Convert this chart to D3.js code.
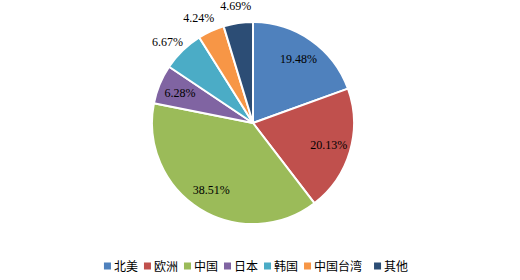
<!DOCTYPE html>
<head>
  <meta charset="utf-8">
  <script src="https://cdn.jsdelivr.net/npm/d3@7"></script>
  <style>
    body { margin: 0; background: #fff; }
  </style>
</head>
<body>
<script>

var regions = ["北美", "欧洲", "中国", "日本", "韩国", "中国台湾", "其他"]
var shares = [19.48, 20.13, 38.51, 6.28, 6.67, 4.24, 4.69]
var colors = ["#4F81BD", "#C0504D", "#9BBB59", "#8064A2", "#4BACC6", "#F79646", "#2C4D75"]
// labels Excel pushed outside the pie
var outsideLabels = ["韩国", "中国台湾", "其他"]

var width = 520
var height = 280
var cx = 253, cy = 123, radius = 101

var svg = d3.select("body")
            .append("svg")
            .attr("width", width)
            .attr("height", height)

var data = regions.map(function(r, i) {
  return {name: r, value: shares[i]}
})

var color = d3.scaleOrdinal()
              .domain(regions)
              .range(colors)

var pie = d3.pie()
            .sort(null)
            .value(function(d) { return d.value })

var arcs = pie(data)

var arc = d3.arc()
            .innerRadius(0)
            .outerRadius(radius)

var g = svg.append("g")
           .attr("transform", "translate(" + cx + "," + cy + ")")

g.selectAll("path")
 .data(arcs)
 .enter()
 .append("path")
 .attr("d", arc)
 .attr("fill", function(d) { return color(d.data.name) })
 .attr("stroke", "#fff")
 .attr("stroke-width", 2)
 .attr("stroke-linejoin", "round")

// inside labels
var labelArc = d3.arc()
                 .innerRadius(79)
                 .outerRadius(79)

var inside = arcs.filter(function(d) { return outsideLabels.indexOf(d.data.name) < 0 })
var outside = arcs.filter(function(d) { return outsideLabels.indexOf(d.data.name) >= 0 })

g.selectAll("text.in")
 .data(inside)
 .enter()
 .append("text")
 .attr("class", "in")
 .attr("transform", function(d) { return "translate(" + labelArc.centroid(d) + ")" })
 .attr("text-anchor", "middle")
 .attr("dy", "0.35em")
 .style("font-family", "'Liberation Serif', 'Times New Roman', serif")
 .style("font-size", "12px")
 .attr("fill", "#000")
 .text(function(d) { return d.data.value.toFixed(2) + "%" })

// outside labels: spread them apart, working back from the last slice
var prev = Infinity
var outPos = []
for (var i = outside.length - 1; i >= 0; i--) {
  var d = outside[i]
  var mid = (d.startAngle + d.endAngle) / 2
  var a = Math.min(mid, prev - 19 * Math.PI / 180)
  prev = a
  outPos[i] = a
}

g.selectAll("text.out")
 .data(outside)
 .enter()
 .append("text")
 .attr("class", "out")
 .attr("x", function(d, i) { return Math.sin(outPos[i]) * (radius + 17) })
 .attr("y", function(d, i) { return -Math.cos(outPos[i]) * (radius + 17) })
 .attr("text-anchor", "middle")
 .attr("dy", "0.35em")
 .style("font-family", "'Liberation Serif', 'Times New Roman', serif")
 .style("font-size", "12px")
 .attr("fill", "#000")
 .text(function(d) { return d.data.value.toFixed(2) + "%" })

// legend
var legend = svg.append("g")
var ly = 266
var items = legend.selectAll("g")
  .data(regions)
  .enter()
  .append("g")

items.append("rect")
  .attr("width", 7)
  .attr("height", 7)
  .attr("y", ly - 3.5)
  .attr("fill", function(d) { return color(d) })

items.append("text")
  .attr("x", 10)
  .attr("y", ly)
  .attr("dy", "0.38em")
  .style("font-family", "'Noto Sans CJK SC', sans-serif")
  .style("font-size", "12px")
  .attr("fill", "#000")
  .text(function(d) { return d })

var offsets = []
var x = 0
items.each(function(d, i) {
  offsets.push(x)
  var w = this.querySelector("text").getComputedTextLength()
  x += 10 + w + (w > 30 ? 12 : 6)
})
var total = x - 6
var startX = 256 - total / 2
items.attr("transform", function(d, i) { return "translate(" + (startX + offsets[i]) + ",0)" })

</script>
</body>
